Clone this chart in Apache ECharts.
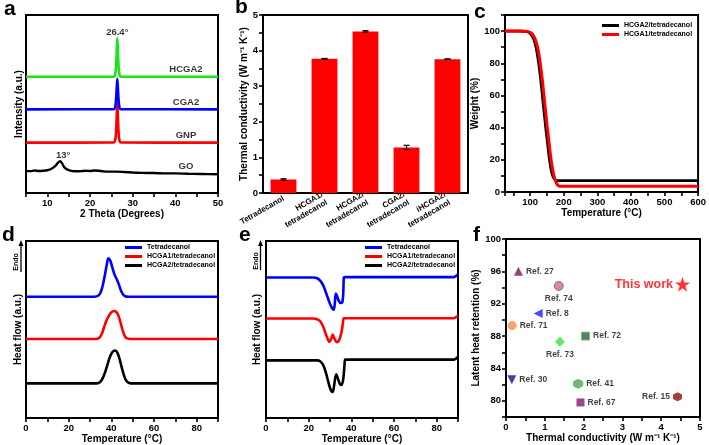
<!DOCTYPE html>
<html><head><meta charset="utf-8">
<script src="https://cdn.jsdelivr.net/npm/echarts@6/dist/echarts.min.js"></script>
<style>html,body{margin:0;padding:0;background:#fff}#c{width:709px;height:445px}</style>
</head><body><div id="c"></div>
<script>
const FONT = "'Liberation Sans', Arial, sans-serif";

// ---- panel a : XRD ----
const xrdGO = [[5,12.4],[6,12.3],[7,12.6],[8,12.4],[9,12.5],[10,12.8],[11,13.6],[12,15.5],[12.5,17.0],[13,17.8],[13.5,16.5],[14,14.4],[15,12.8],[16,12.3],[17,12.2],[18,12.3],[19,12.5],[20,12.4],[21,12.6],[22,12.5],[23,12.2],[24,12.0],[26,12.0],[28,11.8],[30,11.5],[32,11.3],[35,11.2],[38,11.0],[40,11.0],[43,10.8],[46,10.7],[50,10.5]];
const xrdGNP = [[5,28.3],[25.6,28.4],[25.9,29.5],[26.1,34],[26.25,42.5],[26.4,50.4],[26.55,42.5],[26.7,34],[26.9,29.5],[27.2,28.4],[50,28.3]];
const xrdCGA2 = [[5,47.0],[25.6,47.1],[25.9,48.2],[26.1,52],[26.25,58.5],[26.4,64.2],[26.55,58.5],[26.7,52],[26.9,48.2],[27.2,47.1],[50,47.0]];
const xrdHCGA2 = [[5,65.3],[25.6,65.4],[25.9,66.5],[26.1,71],[26.25,79],[26.4,87],[26.55,79],[26.7,71],[26.9,66.5],[27.2,65.4],[50,65.3]];
const xrdLabels = [[26.4,90.5,'26.4°'],[13.7,21.3,'13°'],[42.5,69.7,'HCGA2'],[42.5,51.1,'CGA2'],[42.5,32.6,'GNP'],[42.5,15.2,'GO']];

// ---- panel b : thermal conductivity ----
const bCats = ['Tetradecanol','HCGA1/\ntetradecanol','HCGA2/\ntetradecanol','CGA2/\ntetradecanol','iHCGA2/\ntetradecanol'];
const bVals = [0.38, 3.77, 4.54, 1.28, 3.76];
const bErr = [0.02, 0.01, 0.02, 0.06, 0.01];

// ---- panel c : TGA ----
const tgaHCGA2 = [[25,100],[70,100],[90,99.6],[100,98.5],[110,95],[118,89],[125,80],[131,70],[136,60],[141,50],[146,40],[151,31],[156,22],[161,15],[166,10.5],[171,8.3],[176,7.4],[182,7.1],[600,7.1]];
const tgaHCGA1 = [[25,100],[75,100],[95,99.6],[105,98.5],[115,95],[123,89],[130,80],[136,70],[141,60],[146,50],[151,40],[156,31],[161,22],[166,15],[171,10],[176,6.5],[181,4.5],[186,3.7],[192,3.5],[600,3.5]];

// ---- panel d : DSC heating ----
const dTetra = [[0,68.5],[32,68.5],[34,69.2],[35,71],[36,75],[37,81],[38,87.5],[38.6,90.3],[39.5,89],[40.5,85],[41.5,81],[42.5,78.5],[43.5,75.5],[44.5,72],[45.5,69.8],[46.5,68.8],[48,68.5],[90,68.5]];
const dHCGA1 = [[0,44.7],[33,44.7],[34.5,45.5],[35.5,47.5],[36.5,51],[37.5,54.5],[38.5,57],[39.5,59],[40.5,60.2],[41.4,60.5],[42.3,60],[43.3,58],[44.3,54],[45.3,49.5],[46.3,46.3],[47.3,45],[49,44.7],[90,44.7]];
const dHCGA2 = [[0,19.6],[33,19.6],[34.5,20.2],[35.5,21.5],[36.5,24],[37.5,27.5],[38.5,31.5],[39.5,35],[40.5,37.3],[41.7,38.2],[42.7,37.2],[43.7,34],[44.7,29.5],[45.7,25],[46.7,21.7],[47.7,20.2],[49,19.6],[90,19.6]];

// ---- panel e : DSC cooling ----
const eTetra = [[0,79.4],[22,79.4],[24,79],[25.5,77.5],[27,74.5],[28.5,69.5],[30,64.5],[31,62],[31.7,61.2],[32.2,64],[32.7,70.3],[33.3,69],[34,66.5],[35,65],[35.7,65.2],[36.2,70],[36.5,79.4],[37,79.6],[88,79.6],[89,80.2],[90,81]];
const eHCGA1 = [[0,56.2],[22,56.2],[24,55.8],[25.5,54.5],[27,51],[28.5,46],[29.7,43],[30.5,44.5],[31.3,47.2],[32,45],[33.2,42.9],[34.3,44],[35.3,48],[36.1,54],[36.5,56.4],[88,56.4],[89,57],[90,57.8]];
const eHCGA2 = [[0,32.6],[24,32.6],[25.5,32],[26.8,30],[28,26],[29.3,20],[30.5,15.5],[31.3,14.8],[32,19],[32.9,24.7],[33.8,22],[34.7,19.2],[35.4,18.7],[36.2,22],[36.8,30],[37.1,33],[88,33],[89,33.6],[90,34.4]];

// ---- panel f : comparison ----
const fNames = ['Ref. 27','Ref. 74','Ref. 8','Ref. 71','Ref. 72','Ref. 73','Ref. 30','Ref. 41','Ref. 67','Ref. 15','This work'];
const fX = [0.32,1.36,0.83,0.16,2.05,1.39,0.15,1.86,1.92,4.42,4.55];
const fY = [96.0,94.2,90.8,89.3,88.0,87.3,82.6,82.1,79.8,80.5,94.4];

// styles for panel f (index-matched)
const HEX = 'path://M50,0 L93.3,25 L93.3,75 L50,100 L6.7,75 L6.7,25 Z';
const STAR = 'path://M50,0 L61.8,35.4 L100,35.4 L69.1,57.3 L80.9,92.7 L50,70.8 L19.1,92.7 L30.9,57.3 L0,35.4 L38.2,35.4 Z';
const fStyle = [
  {sym:'triangle', rot:0, size:9, color:'#7b1260', pos:'right'},
  {sym:'circle', rot:0, size:9, color:'#c9707c', border:'#9a4a55', pos:'bottom'},
  {sym:'triangle', rot:90, size:9, color:'#1a1aff', pos:'right'},
  {sym:'circle', rot:0, size:9, color:'#ff8c42', pos:'right'},
  {sym:'rect', rot:0, size:8, color:'#3c5a48', border:'#5fcf5f', pos:'right'},
  {sym:'diamond', rot:0, size:10, color:'#33e633', pos:'bottom'},
  {sym:'triangle', rot:180, size:9, color:'#12129a', pos:'right'},
  {sym:HEX, rot:0, size:9, color:'#5c9c5c', border:'#33cc33', pos:'right'},
  {sym:'rect', rot:0, size:8, color:'#86166a', pos:'right'},
  {sym:HEX, rot:0, size:9, color:'#8b1010', pos:'left'},
  {sym:STAR, rot:0, size:15, color:'#ff0000', pos:'left', big:true}
];

const chart = echarts.init(document.getElementById('c'), null, {renderer:'canvas'});

const grids = [
  {left:26, top:15, width:192, height:178},
  {left:263, top:15, width:205, height:178},
  {left:505, top:15, width:196, height:177},
  {left:26, top:241, width:192, height:179},
  {left:266, top:241, width:192, height:178},
  {left:506, top:239, width:194, height:178}
].map(g => Object.assign({show:true, borderColor:'#000', borderWidth:2, containLabel:false}, g));

const LBL = {fontFamily:FONT, fontWeight:'bold', fontSize:9.5, color:'#000'};
const NAME = {fontFamily:FONT, fontWeight:'bold', fontSize:10, color:'#000'};
const LINE = {show:true, lineStyle:{color:'#000', width:2}};
const TICK = {show:true, inside:false, length:4, lineStyle:{color:'#000', width:1.6}};

function xVal(gi, o) {
  return Object.assign({type:'value', gridIndex:gi, axisLine:LINE, axisTick:TICK, splitLine:{show:false},
    nameLocation:'middle', nameTextStyle:NAME, axisLabel:Object.assign({margin:4}, LBL)}, o);
}
function yVal(gi, o) {
  return Object.assign({type:'value', gridIndex:gi, axisLine:LINE, axisTick:TICK, splitLine:{show:false},
    nameLocation:'middle', nameTextStyle:NAME, axisLabel:Object.assign({margin:4}, LBL)}, o);
}
const noLbl = {show:false};

const xAxes = [
  xVal(0, {min:5, max:50, interval:5, name:'2 Theta (Degrees)', nameGap:13,
    axisLabel:Object.assign({margin:5, formatter:v => (v % 10 === 0 ? String(v) : '')}, LBL)}),
  {type:'category', gridIndex:1, data:bCats, axisLine:LINE, axisTick:{show:false},
    axisLabel:{fontFamily:FONT, fontWeight:'bold', fontSize:8, color:'#000', rotate:30, margin:5, interval:0, lineHeight:9}},
  xVal(2, {min:25, max:600, splitNumber:11, name:'Temperature (°C)', nameGap:15,
    axisLabel:Object.assign({margin:5, formatter:v => (v % 100 === 0 ? String(v) : '')}, LBL)}),
  xVal(3, {min:0, max:90, interval:10, name:'Temperature (°C)', nameGap:14,
    axisLabel:Object.assign({margin:5, formatter:v => (v % 20 === 0 ? String(v) : '')}, LBL)}),
  xVal(4, {min:0, max:90, interval:10, name:'Temperature (°C)', nameGap:14,
    axisLabel:Object.assign({margin:5, formatter:v => (v % 20 === 0 ? String(v) : '')}, LBL)}),
  xVal(5, {min:0, max:5, interval:0.5, name:'Thermal conductivity (W m⁻¹ K⁻¹)', nameGap:13,
    axisLabel:Object.assign({margin:5, formatter:v => (Math.abs(v - Math.round(v)) < 1e-6 ? String(Math.round(v)) : '')}, LBL)})
];
const yAxes = [
  yVal(0, {min:0, max:100, axisLabel:noLbl, axisTick:{show:false}, name:'Intensity (a.u.)', nameGap:2}),
  yVal(1, {min:0, max:5, interval:0.5, name:'Thermal conductivity (W m⁻¹ K⁻¹)', nameGap:14,
    axisLabel:Object.assign({margin:5, formatter:v => (Math.abs(v - Math.round(v)) < 1e-6 ? String(Math.round(v)) : '')}, LBL)}),
  yVal(2, {min:0, max:110, interval:10, name:'Weight (%)', nameGap:18,
    axisLabel:Object.assign({margin:5, formatter:v => (v % 20 === 0 && v <= 100 ? String(v) : '')}, LBL)}),
  yVal(3, {min:0, max:100, axisLabel:noLbl, axisTick:{show:false}, name:'Heat flow (a.u.)', nameGap:3}),
  yVal(4, {min:0, max:100, axisLabel:noLbl, axisTick:{show:false}, name:'Heat flow (a.u.)', nameGap:4}),
  yVal(5, {min:78, max:100, interval:2, name:'Latent heat retention (%)', nameGap:18,
    axisLabel:Object.assign({margin:5, formatter:v => ((Math.round(v) - 80) % 4 === 0 ? String(Math.round(v)) : '')}, LBL)})
];

function line(name, gi, data, color, w) {
  return {type:'line', name:name, xAxisIndex:gi, yAxisIndex:gi, data:data, showSymbol:false, symbol:'none',
    smooth:0.3, lineStyle:{color:color, width:w || 2.6}, itemStyle:{color:color}, animation:false, z:3};
}

const series = [];
// a
series.push(line('GO', 0, xrdGO, '#000000', 2.4));
series.push(line('GNP', 0, xrdGNP, '#ff0000'));
series.push(line('CGA2', 0, xrdCGA2, '#0000ff'));
series.push(line('HCGA2', 0, xrdHCGA2, '#19e619'));
series.push({type:'scatter', xAxisIndex:0, yAxisIndex:0, symbolSize:0, animation:false, silent:true,
  data:xrdLabels.map(d => ({value:d})),
  label:{show:true, position:'inside', formatter:p => p.value[2], fontFamily:FONT, fontWeight:'bold', fontSize:9.5, color:'#000'}, z:5});
// b
series.push({type:'bar', xAxisIndex:1, yAxisIndex:1, data:bVals, barWidth:'63%', itemStyle:{color:'#ff0000'}, animation:false});
series.push({type:'custom', xAxisIndex:1, yAxisIndex:1, animation:false, z:5,
  data:bVals.map((v, i) => [i, v - bErr[i], v + bErr[i]]),
  renderItem:(params, api) => {
    const i = api.value(0);
    const lo = api.coord([i, api.value(1)]);
    const hi = api.coord([i, api.value(2)]);
    const w = 3;
    const st = {stroke:'#000', lineWidth:1.2};
    return {type:'group', children:[
      {type:'line', shape:{x1:lo[0], y1:lo[1], x2:hi[0], y2:hi[1]}, style:st},
      {type:'line', shape:{x1:lo[0]-w, y1:lo[1], x2:lo[0]+w, y2:lo[1]}, style:st},
      {type:'line', shape:{x1:hi[0]-w, y1:hi[1], x2:hi[0]+w, y2:hi[1]}, style:st}
    ]};
  }});
// c
series.push(line('HCGA2/tetradecanol', 2, tgaHCGA2, '#000000', 2.6));
series.push(line('HCGA1/tetradecanol', 2, tgaHCGA1, '#ff0000', 3));
// d
series.push(line('Tetradecanol', 3, dTetra, '#0000ff'));
series.push(line('HCGA1/tetradecanol', 3, dHCGA1, '#ff0000'));
series.push(line('HCGA2/tetradecanol', 3, dHCGA2, '#000000'));
// e
series.push(line('Tetradecanol', 4, eTetra, '#0000ff'));
series.push(line('HCGA1/tetradecanol', 4, eHCGA1, '#ff0000'));
series.push(line('HCGA2/tetradecanol', 4, eHCGA2, '#000000'));
// f
series.push({type:'scatter', xAxisIndex:5, yAxisIndex:5, animation:false, z:5,
  data:fNames.map((n, i) => {
    const s = fStyle[i];
    return {name:n, value:[fX[i], fY[i]], symbol:s.sym, symbolSize:s.size, symbolRotate:s.rot,
      itemStyle:{color:s.color, borderColor:s.border || s.color, borderWidth:s.border ? 1 : 0},
      label:{show:true, position:s.pos, distance:s.big ? 2 : 3, formatter:n,
        fontFamily:FONT, fontWeight:'bold', fontSize:s.big ? 12.5 : 8.5, color:s.big ? '#ff0000' : '#111'}};
  })});

const legText = {fontFamily:FONT, fontWeight:'bold', fontSize:7, color:'#000'};
function legend(left, top, names) {
  return {orient:'vertical', left:left, top:top, data:names, icon:'rect', itemWidth:17, itemHeight:3,
    itemGap:2, selectedMode:false, textStyle:legText, padding:0};
}

const letter = (t, x, y) => ({type:'text', left:x, top:y, style:{text:t, font:"bold 21px " + FONT, fill:'#000'}});
function endo(xText, yMid, xArrow, yTop, yBot) {
  return [
    {type:'text', x:xText, y:yMid, rotation:Math.PI/2, style:{text:'Endo', font:'bold 7px ' + FONT, fill:'#000', align:'center', verticalAlign:'middle'}},
    {type:'line', shape:{x1:xArrow, y1:yBot, x2:xArrow, y2:yTop + 5}, style:{stroke:'#000', lineWidth:1.3}},
    {type:'polygon', shape:{points:[[xArrow - 2.5, yTop + 6], [xArrow + 2.5, yTop + 6], [xArrow, yTop]]}, style:{fill:'#000'}}
  ];
}

chart.setOption({
  backgroundColor:'#fff',
  animation:false,
  grid:grids,
  xAxis:xAxes,
  yAxis:yAxes,
  legend:[
    legend(602, 22, ['HCGA2/tetradecanol','HCGA1/tetradecanol']),
    legend(125, 244, ['Tetradecanol','HCGA1/tetradecanol','HCGA2/tetradecanol']),
    legend(365, 244, ['Tetradecanol','HCGA1/tetradecanol','HCGA2/tetradecanol'])
  ],
  series:series,
  graphic:[
    letter('a', 4, -1), letter('b', 235, -3), letter('c', 474, 2),
    letter('d', 2, 225), letter('e', 239, 225), letter('f', 473, 225)
  ].concat(endo(16, 262, 21, 240, 272)).concat(endo(256, 261, 260.5, 240, 270))
});
</script>
</body></html>
